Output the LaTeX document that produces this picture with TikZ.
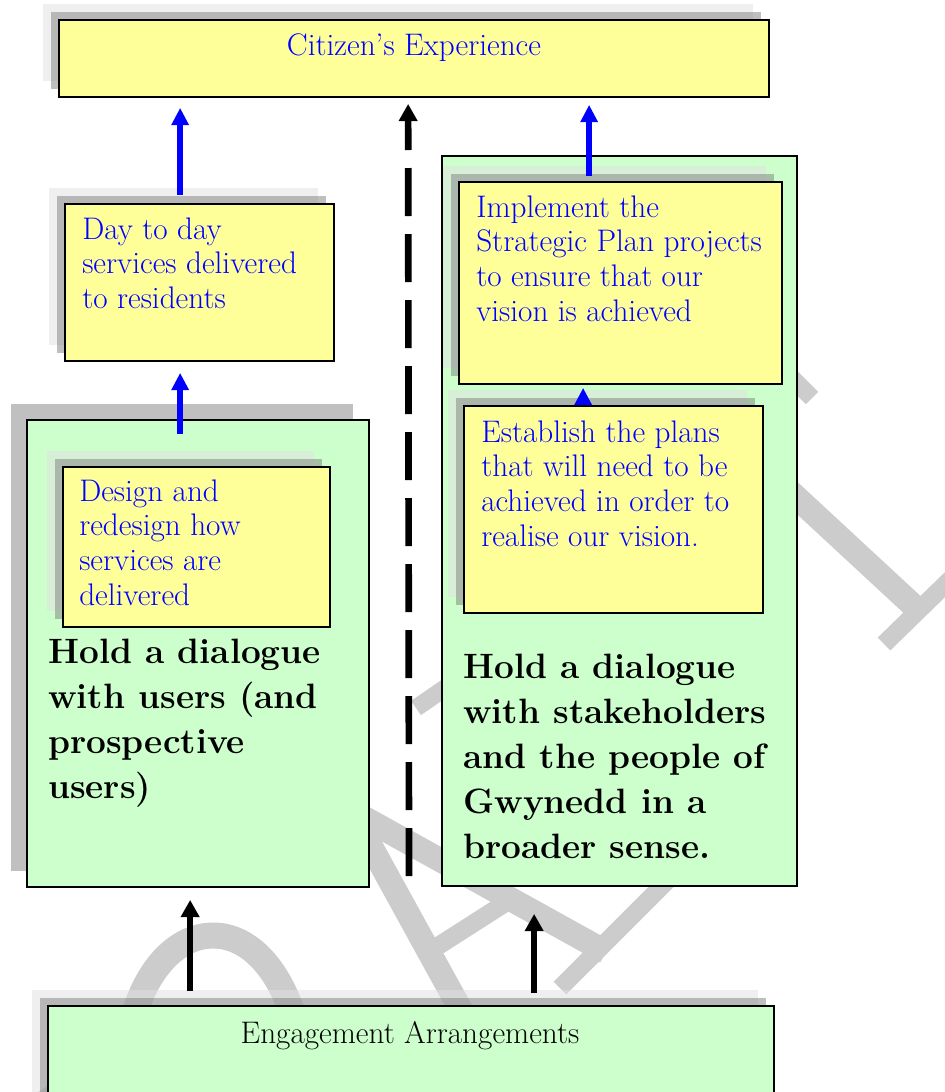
\documentclass[tikz,border=0pt]{standalone}
\usetikzlibrary{arrows.meta,fit,calc,shadows}
\definecolor{boxyellow}{RGB}{255,255,153}
\definecolor{boxgreen}{RGB}{204,255,204}
\definecolor{txtblue}{RGB}{0,0,255}
\definecolor{shlight}{RGB}{224,224,224}
\definecolor{shdark}{RGB}{128,128,128}
\definecolor{shbig}{RGB}{192,192,192}
\definecolor{wmark}{RGB}{204,204,204}
\begin{document}
\begin{tikzpicture}[x=0.75pt,y=-0.75pt,
  twoshadow/.style={
    general shadow={fill=shlight,fill opacity=.5,shadow xshift=-12pt,shadow yshift=12pt},
    general shadow={fill=shdark,fill opacity=.5,shadow xshift=-6pt,shadow yshift=6pt}},
  bigshadow/.style={general shadow={fill=shbig,shadow xshift=-12pt,shadow yshift=12pt}},
  frame/.style={fit={#1}, inner sep=0pt, draw=black, line width=1.3pt},
  ybox/.style={frame={#1}, fill=boxyellow, twoshadow},
  gbox/.style={frame={#1}, fill=boxgreen},
  rtext/.style={font=\fontsize{23.4}{26}\selectfont, inner sep=0pt, align=left, anchor=base west, text=txtblue},
  btext/.style={font=\fontsize{26.4}{33.75}\selectfont\bfseries, inner sep=0pt, align=left, anchor=base west, text=black},
  wm/.style={draw=wmark, line width=#1, line cap=butt},
  barrow/.style={draw=txtblue, line width=4.2pt, -{Triangle[length=13pt,width=12.5pt]}},
  karrow/.style={draw=black, line width=4.6pt, -{Triangle[length=13pt,width=13.5pt]}},
  dasharrow/.style={karrow, line width=5pt, dash pattern=on 36pt off 13.5pt}
]
\useasboundingbox (0,0) rectangle (945,1092);

% watermark
\draw[wm=19.5pt] (135,1012) .. controls (165,915) and (255,905) .. (292,1012);
\draw[wm=12pt] (22,1112) -- (62,1086);
\draw[wm=18pt] (340,790) -- (462,1012);
\draw[wm=18pt] (330,799) -- (606,952);
\draw[wm=13.5pt] (560,988) -- (668,880);
\draw[wm=13.5pt] (424,955) -- (510,900);
\draw[wm=13pt] (480,664) -- (416,708);
\draw[wm=18pt] (700,408) -- (918,610);
\draw[wm=13.5pt] (884,644) -- (960,570);
\draw[wm=13pt] (780,366) -- (812,398);

% boxes
\node[ybox={(59,20) (769,97)}] (top) {};
\node[ybox={(65,204) (334,361)}] (day) {};
\node[gbox={(27,420) (369,887)}, bigshadow] (lgreen) {};
\node[ybox={(63,467) (330,627)}] (design) {};
\node[gbox={(442,156) (797,886)}] (rgreen) {};
\node[ybox={(459,182) (782,384)}] (impl) {};
\node[ybox={(464,406) (763,613)}] (estab) {};
\node[gbox={(48,1006) (774,1120)}, twoshadow] (bottom) {};

% texts (anchored at the baseline of their last line)
\node[rtext, anchor=base] (ctext) at (414,55) {Citizen's Experience};
\node[rtext, font=\fontsize{23.4}{25.6}\selectfont] (daytext) at (82,308) {Day to day\\services delivered\\to residents};
\node[rtext] (designtext) at (79,605) {Design and\\redesign how\\services are\\delivered};
\node[btext] (holdl) at (48,798) {Hold a dialogue\\with users (and\\prospective\\users)};
\node[rtext] (impltext) at (476,321) {Implement the\\Strategic Plan projects\\to ensure that our\\vision is achieved};
\node[rtext] (estabtext) at (481,546) {Establish the plans\\that will need to be\\achieved in order to\\realise our vision.};
\node[btext] (holdr) at (463,858) {Hold a dialogue\\with stakeholders\\and the people of\\Gwynedd in a\\broader sense.};
\node[rtext, anchor=base, text=black] (engtext) at (410,1043) {Engagement Arrangements};

% connectors
\draw[barrow] ($(day.north west)+(116,-8)$) -- ($(top.south west)+(122,10)$);
\draw[barrow] ($(design.north west)+(118,-32)$) -- ($(day.south west)+(116,11)$);
\draw[barrow] ($(impl.north west)+(131,-5)$) -- ($(top.south west)+(531,7)$);
\draw[barrow] ($(estab.north west)+(120,-1)$) -- ($(impl.south west)+(125,3)$);
\draw[karrow] ($(bottom.north west)+(143,-14)$) -- ($(lgreen.south west)+(164,12)$);
\draw[karrow] ($(bottom.north west)+(487,-12)$) -- ($(rgreen.south west)+(93,27)$);
\coordinate (dstart) at (409,876);
\draw[dasharrow] (dstart) -- ($(top.south west)+(350,6)$);
\end{tikzpicture}
\end{document}
